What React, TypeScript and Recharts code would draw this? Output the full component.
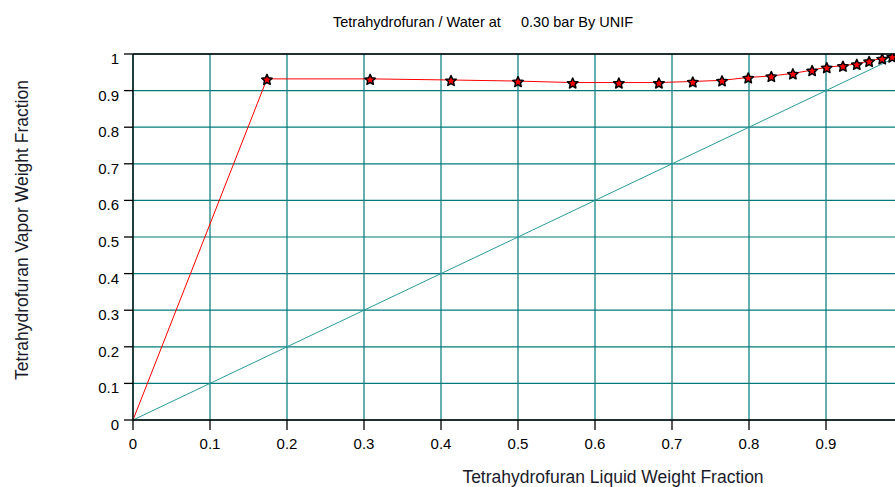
import { ComposedChart, Line, XAxis, YAxis, CartesianGrid, ReferenceLine, Label } from "recharts"

const liquidX = [0, 0.174, 0.308, 0.413, 0.5, 0.571, 0.631, 0.683, 0.727, 0.765, 0.799, 0.829, 0.857, 0.882, 0.901, 0.922, 0.94, 0.956, 0.973, 0.986, 1.0]
const vaporY = [0, 0.932, 0.932, 0.929, 0.926, 0.922, 0.922, 0.922, 0.925, 0.928, 0.936, 0.94, 0.947, 0.956, 0.964, 0.968, 0.973, 0.981, 0.988, 0.993, 1.0]
const diagX = [0, 1]
const ticks = [0, 0.1, 0.2, 0.3, 0.4, 0.5, 0.6, 0.7, 0.8, 0.9, 1]

const curve = liquidX.map((x, i) => ({ x, y: vaporY[i] }))
const diagonal = diagX.map((x) => ({ x, y: x }))

const FONT = "'Liberation Sans', Arial, sans-serif"
const GRID = "#007a7a"

const fmt = (v: number) => (v === 0 ? "0" : v === 1 ? "1" : String(v))

const StarDot = (props: any) => {
  const { cx, cy, payload } = props
  if (cx == null || cy == null || payload.x === 0) return null
  const pts: string[] = []
  for (let i = 0; i < 10; i++) {
    const r = i % 2 === 0 ? 5.5 : 2.6
    const a = -Math.PI / 2 + (i * Math.PI) / 5
    pts.push(`${(cx + r * Math.cos(a)).toFixed(2)},${(cy + 1 + r * Math.sin(a)).toFixed(2)}`)
  }
  return <polygon key={`s${payload.x}`} points={pts.join(" ")} fill="#ff0000" stroke="#000" strokeWidth={1.5} strokeLinejoin="round" />
}

const YTick = (props: any) => {
  const { x, y, payload } = props
  return (
    <text x={x - 3} y={y + 10} textAnchor="end" fontSize={15} fontFamily={FONT} fill="#000">
      {fmt(payload.value)}
    </text>
  )
}

const XTick = (props: any) => {
  const { x, y, payload } = props
  // the 1.0 label falls past the window edge in the reference
  if (payload.value === 1) return null
  return (
    <text x={x} y={y + 17} textAnchor="middle" fontSize={15} fontFamily={FONT} fill="#000">
      {fmt(payload.value)}
    </text>
  )
}

export default function App() {
  return (
    <div style={{ position: "fixed", left: 0, top: 0, width: 895, height: 487, overflow: "hidden", background: "#fff" }}>
      <div
        style={{
          position: "absolute",
          left: 0,
          width: 966,
          top: 14,
          textAlign: "center",
          fontFamily: FONT,
          fontSize: 14.5,
          whiteSpace: "pre",
          color: "#000",
        }}
      >
        {"Tetrahydrofuran / Water at     0.30 bar By UNIF"}
      </div>
      <ComposedChart
        width={920}
        height={487}
        margin={{ top: 54, right: 17, bottom: 0, left: 0 }}
        style={{ position: "absolute", left: 0, top: 0 }}
      >
        <CartesianGrid stroke={GRID} strokeWidth={1.2} horizontalValues={ticks} verticalValues={ticks} />
        <XAxis
          type="number"
          dataKey="x"
          domain={[0, 1]}
          ticks={ticks}
          height={67}
          tickSize={10}
          tick={<XTick />}
          stroke="#000"
          strokeWidth={1.3}
          allowDataOverflow
        >
          <Label
            value="Tetrahydrofuran Liquid Weight Fraction"
            position="insideBottom"
            offset={4}
            dx={95}
            fontSize={17.5}
            fontFamily={FONT}
            fill="#1a1a2a"
          />
        </XAxis>
        <YAxis
          type="number"
          dataKey="y"
          domain={[0, 1]}
          ticks={ticks}
          width={133}
          tickSize={9}
          tick={<YTick />}
          stroke="#000"
          strokeWidth={1.3}
          allowDataOverflow
        >
          <Label
            value="Tetrahydrofuran Vapor Weight Fraction"
            angle={-90}
            position="insideLeft"
            offset={0}
            dx={22}
            dy={-7}
            fontSize={17.5}
            fontFamily={FONT}
            fill="#1a1a2a"
            style={{ textAnchor: "middle" }}
          />
        </YAxis>
        <ReferenceLine y={1} stroke="#000" strokeWidth={1.5} />
        <Line
          data={diagonal}
          dataKey="y"
          type="linear"
          stroke="#2a9a9a"
          strokeWidth={1}
          dot={false}
          activeDot={false}
          isAnimationActive={false}
        />
        <Line
          data={curve}
          dataKey="y"
          type="linear"
          stroke="#ff0000"
          strokeWidth={1}
          dot={<StarDot />}
          activeDot={false}
          isAnimationActive={false}
        />
      </ComposedChart>
    </div>
  )
}
